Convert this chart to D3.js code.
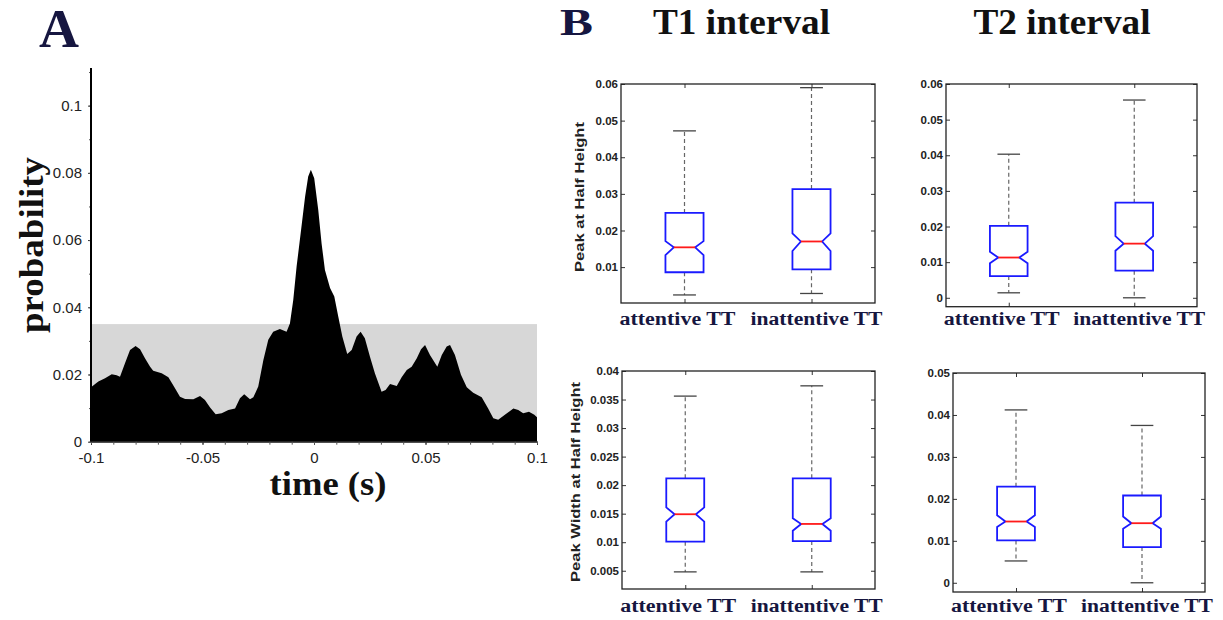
<!DOCTYPE html>
<html>
<head>
<meta charset="utf-8">
<script src="https://cdn.jsdelivr.net/npm/d3@7"></script>
<style>
  html, body { margin: 0; padding: 0; background: #fff; }
  svg { display: block; }
</style>
</head>
<body>
<svg id="fig" width="1223" height="620"></svg>
<script>
// ---- Panel A: cross-correlation probability vs. lag ----
const timeS = [
  -0.1000, -0.0967, -0.0937, -0.0907, -0.0885, -0.0870, -0.0848, -0.0825, -0.0800, -0.0780,
  -0.0758, -0.0735, -0.0721, -0.0683, -0.0653, -0.0626, -0.0601, -0.0578, -0.0541, -0.0511,
  -0.0489, -0.0466, -0.0441, -0.0414, -0.0384, -0.0354, -0.0332, -0.0313, -0.0287, -0.0272,
  -0.0250, -0.0227, -0.0205, -0.0183, -0.0153, -0.0123, -0.0108, -0.0093, -0.0078, -0.0058,
  -0.0040, -0.0026, -0.0014, 0.0001, 0.0019, 0.0034, 0.0049, 0.0072, 0.0091, 0.0109,
  0.0127, 0.0149, 0.0169, 0.0191, 0.0209, 0.0228, 0.0251, 0.0273, 0.0303, 0.0321,
  0.0341, 0.0371, 0.0393, 0.0416, 0.0438, 0.0461, 0.0480, 0.0498, 0.0520, 0.0553,
  0.0573, 0.0595, 0.0610, 0.0632, 0.0659, 0.0685, 0.0714, 0.0752, 0.0781, 0.0804,
  0.0826, 0.0856, 0.0894, 0.0916, 0.0938, 0.0964, 0.0988, 0.1000
];
const probability = [
  0.0162, 0.0179, 0.0189, 0.0201, 0.0198, 0.0193, 0.0233, 0.0273, 0.0285, 0.0275,
  0.0248, 0.0223, 0.0211, 0.0204, 0.0192, 0.0162, 0.0134, 0.0127, 0.0126, 0.0136,
  0.0124, 0.0102, 0.0082, 0.0085, 0.0094, 0.0099, 0.0129, 0.0141, 0.0126, 0.0132,
  0.0164, 0.0243, 0.0303, 0.0327, 0.0335, 0.0327, 0.0352, 0.0422, 0.0521, 0.0630,
  0.0729, 0.0789, 0.0809, 0.0784, 0.0690, 0.0590, 0.0511, 0.0457, 0.0432, 0.0372,
  0.0313, 0.0261, 0.0273, 0.0313, 0.0327, 0.0308, 0.0253, 0.0204, 0.0149, 0.0154,
  0.0172, 0.0166, 0.0192, 0.0213, 0.0223, 0.0248, 0.0275, 0.0288, 0.0258, 0.0223,
  0.0258, 0.0283, 0.0288, 0.0258, 0.0199, 0.0162, 0.0146, 0.0132, 0.0099, 0.0070,
  0.0065, 0.0080, 0.0099, 0.0094, 0.0085, 0.0089, 0.0080, 0.0073
];
const significanceLevel = 0.035;
const probTicks = [0, 0.02, 0.04, 0.06, 0.08, 0.1];
const timeTicks = [-0.1, -0.05, 0, 0.05, 0.1];

// ---- Panel B: box-plot summaries per group ----
const groups = ["attentive TT", "inattentive TT"];
// each row: [whiskerLow, q1, notchLow, median, notchHigh, q3, whiskerHigh]
const t1PeakStats = [
  [0.0024, 0.0086, 0.0133, 0.0154, 0.0171, 0.0248, 0.0472],
  [0.0028, 0.0094, 0.0144, 0.0170, 0.0192, 0.0313, 0.0590]
];
const t2PeakStats = [
  [0.0014, 0.0061, 0.0097, 0.0113, 0.0129, 0.0202, 0.0403],
  [0.0000, 0.0076, 0.0132, 0.0152, 0.0173, 0.0267, 0.0555]
];
const t1WidthStats = [
  [0.0048, 0.0101, 0.0136, 0.0149, 0.0161, 0.0212, 0.0356],
  [0.0048, 0.0102, 0.0120, 0.0132, 0.0142, 0.0212, 0.0374]
];
const t2WidthStats = [
  [0.0052, 0.0101, 0.0133, 0.0146, 0.0161, 0.0229, 0.0412],
  [0.0000, 0.0085, 0.0129, 0.0142, 0.0158, 0.0208, 0.0375]
];
const t1PeakTicks = [0.01, 0.02, 0.03, 0.04, 0.05, 0.06];
const t2PeakTicks = [0, 0.01, 0.02, 0.03, 0.04, 0.05, 0.06];
const t1WidthTicks = [0.005, 0.01, 0.015, 0.02, 0.025, 0.03, 0.035, 0.04];
const t2WidthTicks = [0, 0.01, 0.02, 0.03, 0.04, 0.05];
const columnTitles = ["T1 interval", "T2 interval"];

const svg = d3.select("#fig");
const SERIF = "'Liberation Serif', 'Times New Roman', serif";
const SANS = "'Liberation Sans', Arial, sans-serif";
const NAVY = "#161640";

// ================= Panel A =================
const ax = d3.scaleLinear().domain([-0.1, 0.1]).range([91, 537]);
const ay = d3.scaleLinear().domain([0, 0.1112]).range([441.7, 68]);
const gA = svg.append("g");

gA.append("rect")
  .attr("x", ax(-0.1)).attr("y", ay(significanceLevel))
  .attr("width", ax(0.1) - ax(-0.1)).attr("height", ay(0) - ay(significanceLevel))
  .attr("fill", "#d7d7d7");

const series = timeS.map((t, i) => ({ t, p: probability[i] }));
gA.append("path")
  .datum(series)
  .attr("fill", "#000")
  .attr("d", d3.area().x(d => ax(d.t)).y0(ay(0)).y1(d => ay(d.p)));

// y axis: labelled major ticks plus unlabelled minor ticks
const yAxisA = gA.append("g").attr("transform", `translate(${ax(-0.1)},0)`)
  .call(d3.axisLeft(ay).tickValues(probTicks).tickSize(3).tickPadding(6).tickFormat(d => String(d)));
yAxisA.select(".domain").remove();
yAxisA.selectAll("text").attr("font-family", SANS).attr("font-size", 15).attr("fill", "#222");
yAxisA.selectAll("line").attr("stroke", "#333");
gA.append("g").attr("transform", `translate(${ax(-0.1)},0)`)
  .call(d3.axisLeft(ay).tickValues(ay.ticks(11)).tickSize(2).tickFormat(""))
  .call(g => g.select(".domain").remove())
  .selectAll("line").attr("stroke", "#555");
gA.append("line")
  .attr("x1", ax(-0.1)).attr("x2", ax(-0.1)).attr("y1", ay.range()[1]).attr("y2", ay(0))
  .attr("stroke", "#000").attr("stroke-width", 2);

// x axis
const xAxisA = gA.append("g").attr("transform", `translate(0,${ay(0)})`)
  .call(d3.axisBottom(ax).tickValues(timeTicks).tickSize(3).tickPadding(8).tickFormat(d => String(d)));
xAxisA.select(".domain").attr("stroke", "#000");
xAxisA.selectAll("text").attr("font-family", SANS).attr("font-size", 15).attr("fill", "#222");
gA.append("g").attr("transform", `translate(0,${ay(0)})`)
  .call(d3.axisBottom(ax).tickValues(ax.ticks(20)).tickSize(3).tickFormat(""))
  .call(g => g.select(".domain").remove())
  .selectAll("line").attr("stroke", "#555");

gA.append("text")
  .attr("transform", `translate(43,245) rotate(-90)`)
  .attr("text-anchor", "middle")
  .attr("font-family", SERIF).attr("font-weight", "bold").attr("font-size", 34)
  .attr("textLength", 176).attr("lengthAdjust", "spacingAndGlyphs")
  .attr("fill", "#111").text("probability");
gA.append("text")
  .attr("x", 328).attr("y", 495)
  .attr("text-anchor", "middle")
  .attr("font-family", SERIF).attr("font-weight", "bold").attr("font-size", 33)
  .attr("textLength", 117).attr("lengthAdjust", "spacingAndGlyphs")
  .attr("fill", "#111").text("time (s)");

svg.append("text").attr("x", 39).attr("y", 47)
  .attr("font-family", SERIF).attr("font-weight", "bold").attr("font-size", 54)
  .attr("textLength", 40).attr("lengthAdjust", "spacingAndGlyphs")
  .attr("fill", NAVY).text("A");
svg.append("text").attr("x", 560).attr("y", 35)
  .attr("font-family", SERIF).attr("font-weight", "bold").attr("font-size", 38)
  .attr("textLength", 33).attr("lengthAdjust", "spacingAndGlyphs")
  .attr("fill", NAVY).text("B");

// ================= Panel B =================
const labelShift = [-7, 5];
const labelLength = [116, 132];

function boxPanel(cfg) {
  const g = svg.append("g");
  const x = d3.scalePoint().domain(groups).range([cfg.x0, cfg.x0 + cfg.w]).padding(0.5);
  const y = d3.scaleLinear().domain(cfg.domain).range([cfg.y0 + cfg.h, cfg.y0]);
  const step = x.step();
  const bw = step * 0.3;
  const inset = bw * 0.22;
  const capHalf = bw * 0.3;

  // left axis with labels, inward ticks
  const left = g.append("g").attr("transform", `translate(${cfg.x0},0)`)
    .call(d3.axisLeft(y).tickValues(cfg.ticks).tickSize(-4).tickPadding(3).tickFormat(d => String(d)));
  left.select(".domain").remove();
  left.selectAll("text").attr("font-family", SANS).attr("font-size", 11.5)
    .attr("font-weight", "bold").attr("fill", "#222");
  left.selectAll("line").attr("stroke", "#333");
  // right axis, inward ticks only
  g.append("g").attr("transform", `translate(${cfg.x0 + cfg.w},0)`)
    .call(d3.axisRight(y).tickValues(cfg.ticks).tickSize(-4).tickFormat(""))
    .call(a => a.select(".domain").remove())
    .selectAll("line").attr("stroke", "#333");
  // top / bottom ticks at the group positions
  g.append("g").attr("transform", `translate(0,${cfg.y0 + cfg.h})`)
    .call(d3.axisBottom(x).tickSize(-4).tickFormat(""))
    .call(a => a.select(".domain").remove())
    .selectAll("line").attr("stroke", "#333");
  g.append("g").attr("transform", `translate(0,${cfg.y0})`)
    .call(d3.axisTop(x).tickSize(-4).tickFormat(""))
    .call(a => a.select(".domain").remove())
    .selectAll("line").attr("stroke", "#333");

  g.append("rect")
    .attr("x", cfg.x0).attr("y", cfg.y0).attr("width", cfg.w).attr("height", cfg.h)
    .attr("fill", "none").attr("stroke", "#222").attr("stroke-width", 1.3);

  const boxes = g.selectAll(".bx").data(cfg.stats).join("g").attr("class", "bx");
  boxes.each(function (s, i) {
    const b = d3.select(this);
    const cx = x(groups[i]);
    const [wLo, q1, nLo, med, nHi, q3, wHi] = s;
    // whiskers
    b.append("line").attr("x1", cx).attr("x2", cx).attr("y1", y(q3)).attr("y2", y(wHi))
      .attr("stroke", "#666").attr("stroke-width", 1.2).attr("stroke-dasharray", "4,3");
    b.append("line").attr("x1", cx).attr("x2", cx).attr("y1", y(q1)).attr("y2", y(wLo))
      .attr("stroke", "#666").attr("stroke-width", 1.2).attr("stroke-dasharray", "4,3");
    [wHi, wLo].forEach(v => {
      b.append("line").attr("x1", cx - capHalf).attr("x2", cx + capHalf)
        .attr("y1", y(v)).attr("y2", y(v))
        .attr("stroke", "#444").attr("stroke-width", 1.3);
    });
    // notched box
    const xl = cx - bw / 2, xr = cx + bw / 2;
    const pts = [
      [xl, y(q1)], [xl, y(nLo)], [xl + inset, y(med)], [xl, y(nHi)], [xl, y(q3)],
      [xr, y(q3)], [xr, y(nHi)], [xr - inset, y(med)], [xr, y(nLo)], [xr, y(q1)]
    ];
    b.append("path").attr("d", d3.line()(pts) + "Z")
      .attr("fill", "none").attr("stroke", "#1a1aff").attr("stroke-width", 1.8)
      .attr("stroke-linejoin", "miter");
    b.append("line").attr("x1", xl + inset).attr("x2", xr - inset)
      .attr("y1", y(med)).attr("y2", y(med))
      .attr("stroke", "#ff1a1a").attr("stroke-width", 1.8);
  });

  // group labels
  g.selectAll(".glab").data(groups).join("text").attr("class", "glab")
    .attr("x", (d, i) => x(d) + labelShift[i])
    .attr("y", cfg.labelY)
    .attr("text-anchor", "middle")
    .attr("font-family", SERIF).attr("font-weight", "bold").attr("font-size", 18.5)
    .attr("textLength", (d, i) => labelLength[i]).attr("lengthAdjust", "spacingAndGlyphs")
    .attr("fill", NAVY).text(d => d);

  if (cfg.yLabel) {
    g.append("text")
      .attr("transform", `translate(${cfg.yLabelX},${cfg.yLabelY}) rotate(-90)`)
      .attr("text-anchor", "middle")
      .attr("font-family", SANS).attr("font-weight", "bold").attr("font-size", 12.5)
      .attr("textLength", cfg.yLabelLen).attr("lengthAdjust", "spacingAndGlyphs")
      .attr("fill", "#222").text(cfg.yLabel);
  }
}

boxPanel({ x0: 621, y0: 84, w: 254, h: 219, domain: [0.0002, 0.06], ticks: t1PeakTicks,
  stats: t1PeakStats, labelY: 325,
  yLabel: "Peak at Half Height", yLabelX: 584, yLabelY: 197, yLabelLen: 150 });
boxPanel({ x0: 946, y0: 84, w: 251, h: 222.7, domain: [-0.0025, 0.06], ticks: t2PeakTicks,
  stats: t2PeakStats, labelY: 325 });
boxPanel({ x0: 622, y0: 371, w: 253, h: 218, domain: [0.0018, 0.04], ticks: t1WidthTicks,
  stats: t1WidthStats, labelY: 612,
  yLabel: "Peak Width at Half Height", yLabelX: 580, yLabelY: 482, yLabelLen: 200 });
boxPanel({ x0: 953, y0: 373, w: 252, h: 219, domain: [-0.0022, 0.05], ticks: t2WidthTicks,
  stats: t2WidthStats, labelY: 612 });

// column titles
svg.selectAll(".ctitle").data(columnTitles).join("text").attr("class", "ctitle")
  .attr("x", (d, i) => [741.5, 1062][i]).attr("y", 34)
  .attr("text-anchor", "middle")
  .attr("font-family", SERIF).attr("font-weight", "bold").attr("font-size", 36)
  .attr("textLength", 177).attr("lengthAdjust", "spacingAndGlyphs")
  .attr("fill", "#111").text(d => d);
</script>
</body>
</html>
